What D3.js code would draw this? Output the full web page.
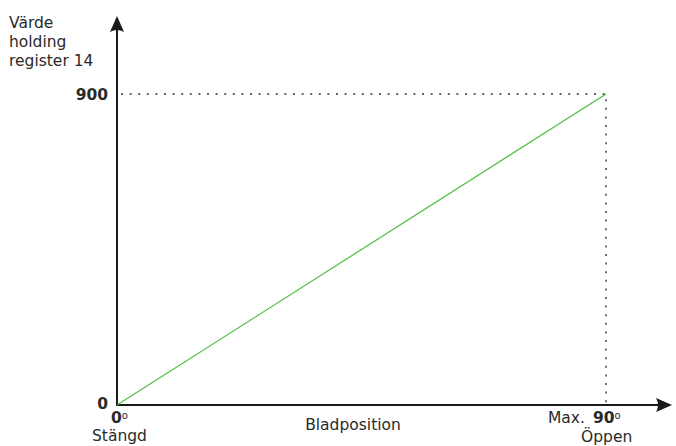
<!DOCTYPE html>
<html>
<head>
<meta charset="utf-8">
<script src="https://cdn.jsdelivr.net/npm/d3@7"></script>
<style>
  body { margin: 0; background: #fff; }
  text { font-family: "DejaVu Sans", Verdana, sans-serif; fill: #2a2a2a; }
</style>
</head>
<body>
<svg width="676" height="446"></svg>
<script>
// data
var xValues = [0, 90]          // Bladposition (grader)
var yValues = [0, 900]         // Värde holding register 14
var yTicks = [0, 900]
var yTitle = ['Värde', 'holding', 'register 14']

var svg = d3.select('svg')
var orig = { x: 117, y: 405 }

var xScale = d3.scaleLinear().domain([0, 90]).range([orig.x, 606])
var yScale = d3.scaleLinear().domain([0, 900]).range([orig.y, 94])

var defs = svg.append('defs')
defs.append('marker')
    .attr('id', 'arrow')
    .attr('viewBox', '0 0 16 14')
    .attr('refX', 3).attr('refY', 7)
    .attr('markerWidth', 16).attr('markerHeight', 14)
    .attr('markerUnits', 'userSpaceOnUse')
    .attr('orient', 'auto')
  .append('path')
    .attr('d', 'M0,0 L16,7 L0,14 Q4,7 0,0 z')
    .attr('fill', '#1a1a1a')

// dotted guides to max point
var xm = xScale(90), ym = yScale(900)
svg.append('path')
   .attr('d', `M${orig.x + 4},${ym} H${xm} V${orig.y}`)
   .attr('fill', 'none')
   .attr('stroke', '#333')
   .attr('stroke-width', 1.4)
   .attr('stroke-dasharray', '2,6.6')

// axes
svg.append('line')
   .attr('x1', orig.x).attr('y1', orig.y)
   .attr('x2', orig.x).attr('y2', 29)
   .attr('stroke', '#1a1a1a').attr('stroke-width', 2)
   .attr('marker-end', 'url(#arrow)')
svg.append('line')
   .attr('x1', orig.x - 1).attr('y1', orig.y)
   .attr('x2', 659).attr('y2', orig.y)
   .attr('stroke', '#1a1a1a').attr('stroke-width', 2)
   .attr('marker-end', 'url(#arrow)')

// series line
var line = d3.line()
  .x((d, i) => xScale(xValues[i]))
  .y(d => yScale(d))
svg.append('path')
   .datum(yValues)
   .attr('d', line)
   .attr('fill', 'none')
   .attr('stroke', '#4cbe3f')
   .attr('stroke-width', 1.2)

// y tick labels
svg.selectAll('.ytick')
   .data(yTicks)
   .enter()
   .append('text')
   .attr('class', 'ytick')
   .attr('x', 108)
   .attr('y', d => yScale(d) + (d == 0 ? 4 : 6))
   .attr('text-anchor', 'end')
   .attr('font-size', 15.5)
   .attr('font-weight', 'bold')
   .text(d => d)

// y title
svg.selectAll('.ytitle')
   .data(yTitle)
   .enter()
   .append('text')
   .attr('x', 9)
   .attr('y', (d, i) => 28 + i * 19)
   .attr('font-size', 15.5)
   .text(d => d)

// x labels
var t0 = svg.append('text')
   .attr('x', 111).attr('y', 423)
   .attr('font-size', 15.5)
t0.append('tspan').attr('font-weight', 'bold').text('0')
t0.append('tspan').attr('font-size', 10).attr('dy', -4).text('o')

svg.append('text')
   .attr('x', 92).attr('y', 441)
   .attr('font-size', 15.5)
   .text('Stängd')

svg.append('text')
   .attr('x', 353).attr('y', 430)
   .attr('text-anchor', 'middle')
   .attr('font-size', 15.5)
   .text('Bladposition')

var t90 = svg.append('text')
   .attr('x', 548).attr('y', 423)
   .attr('font-size', 15.5)
t90.append('tspan').text('Max. ')
t90.append('tspan').attr('font-weight', 'bold').attr('dx', 3).text('90')
t90.append('tspan').attr('font-size', 10).attr('dy', -4).text('o')

svg.append('text')
   .attr('x', 581).attr('y', 442)
   .attr('font-size', 15.5)
   .text('Öppen')
</script>
</body>
</html>
